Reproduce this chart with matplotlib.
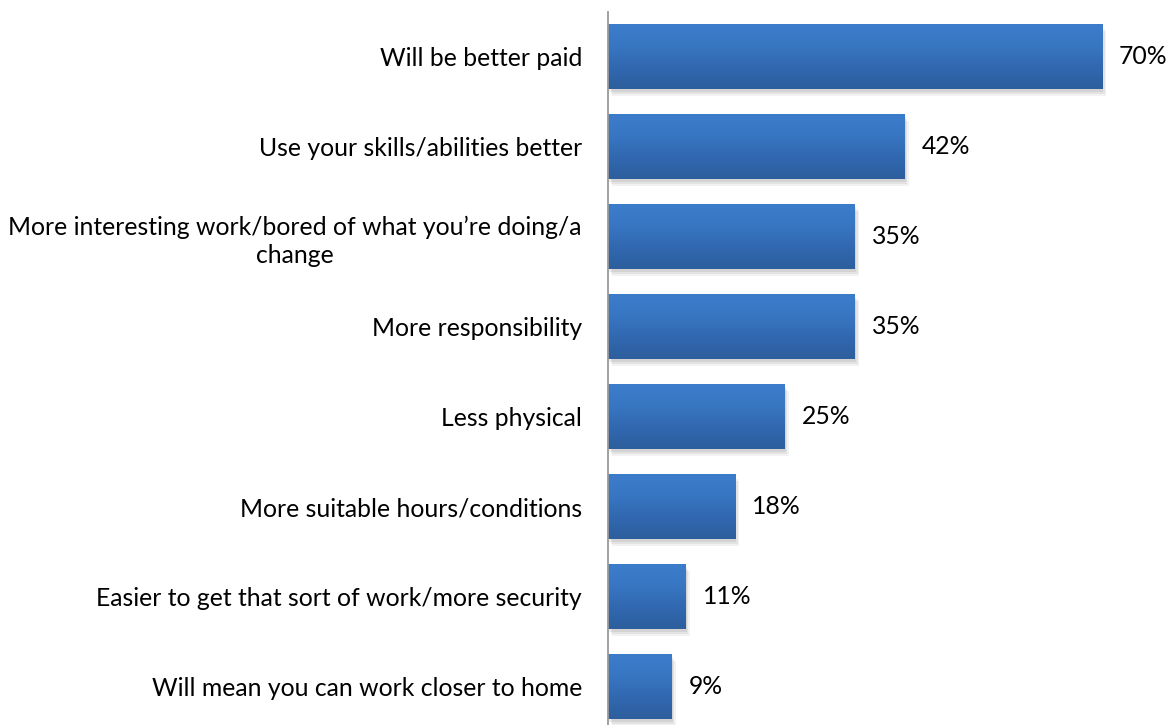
import numpy as np
import matplotlib
matplotlib.use("Agg")
import matplotlib.pyplot as plt
from matplotlib import patheffects as pe
from matplotlib.colors import LinearSegmentedColormap

plt.rcParams['font.family'] = ['Lato', 'DejaVu Sans']

categories = [
    "Will be better paid",
    "Use your skills/abilities better",
    "More interesting work/bored of what you\u2019re doing/a\nchange",
    "More responsibility",
    "Less physical",
    "More suitable hours/conditions",
    "Easier to get that sort of work/more security",
    "Will mean you can work closer to home",
]
values = [70, 42, 35, 35, 25, 18, 11, 9]
value_labels = ["70%", "42%", "35%", "35%", "25%", "18%", "11%", "9%"]

W, H, DPI = 1172, 725, 100
fig = plt.figure(figsize=(W / DPI, H / DPI), dpi=DPI)
fig.patch.set_facecolor("white")

FS = 17.8
px_per_unit = 494 / 70.0
xmax = 79.5
ax = fig.add_axes([608 / W, 1 - 731.5 / H, xmax * px_per_unit / W, 720 / H])
ax.set_facecolor("none")

ypos = np.arange(len(categories))
shadow = [
    pe.SimplePatchShadow(offset=(1.0, -2.0), shadow_rgbFace="#000000", alpha=0.07),
    pe.SimplePatchShadow(offset=(2.0, -3.5), shadow_rgbFace="#000000", alpha=0.06),
    pe.SimplePatchShadow(offset=(3.0, -5.0), shadow_rgbFace="#000000", alpha=0.05),
]
bars = ax.barh(ypos, values, height=0.72, color="#3470bb", zorder=2,
               path_effects=shadow + [pe.Normal()])

cmap = LinearSegmentedColormap.from_list(
    "barfill", ["#3c7dcb", "#3876c2", "#3168b0", "#2d5e9d"])
grad = np.linspace(0, 1, 256).reshape(-1, 1)
for bar in bars:
    x0, y0 = bar.get_x(), bar.get_y()
    w, h = bar.get_width(), bar.get_height()
    im = ax.imshow(grad, cmap=cmap, aspect="auto", origin="upper",
                   extent=[x0, x0 + w, y0 + h, y0], zorder=3,
                   interpolation="bilinear")
    im.set_clip_path(bar)

ax.set_xlim(0, xmax)
ax.set_ylim(len(categories) - 0.5, -0.5)

for y, v, lab in zip(ypos, values, value_labels):
    ax.annotate(lab, (v, y), xytext=(17, 0), textcoords="offset pixels",
                ha="left", va="center", fontsize=FS, color="#000000")

ax.set_yticks(ypos)
ax.set_yticklabels(categories, fontsize=FS, multialignment="center",
                   linespacing=1.3)
ax.tick_params(axis="y", length=0, pad=26 * 72 / DPI)
ax.set_xticks([])

for s in ["top", "right", "bottom"]:
    ax.spines[s].set_visible(False)
ax.spines["left"].set_color("#9a9a9a")
ax.spines["left"].set_linewidth(1.3)
ax.spines["left"].set_zorder(5)

fig.savefig("out.png", dpi=DPI, facecolor="white")
